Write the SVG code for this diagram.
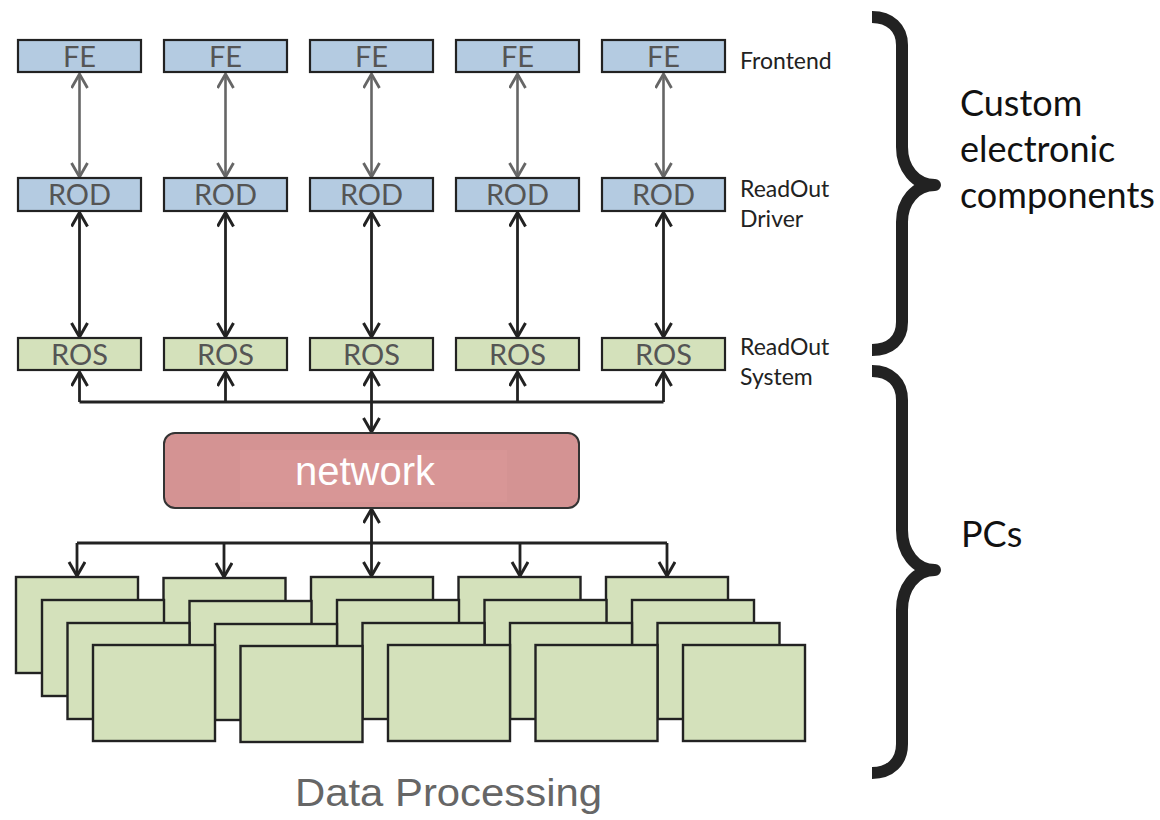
<svg xmlns="http://www.w3.org/2000/svg" width="1160" height="820" viewBox="0 0 1160 820">
<defs>
<style>
.blue{fill:#b4cbe1;stroke:#222;stroke-width:2.2}
.green{fill:#d4e1bb;stroke:#222;stroke-width:2.2}
.pc{fill:#d4e1bb;stroke:#222;stroke-width:2.4}
.bl{font-family:Lato,"Open Sans",sans-serif;font-size:29px;fill:#555;text-anchor:middle}
.side{font-family:Lato,"Open Sans",sans-serif;font-size:23px;fill:#222}
.big{font-family:Lato,"Open Sans",sans-serif;font-size:36px;fill:#111}
.gray{stroke:#666;stroke-width:2.6;fill:none}
.dark{stroke:#222;stroke-width:2.8;fill:none}
.brace{stroke:#222;stroke-width:12;fill:none;stroke-linejoin:round}
</style>
<marker id="ag" markerUnits="userSpaceOnUse" markerWidth="20" markerHeight="20" refX="15" refY="9" orient="auto-start-reverse" viewBox="0 0 20 20"><path d="M1,1 L15,9 L1,17" fill="none" stroke="#666" stroke-width="2.8"/></marker>
<marker id="ad" markerUnits="userSpaceOnUse" markerWidth="20" markerHeight="20" refX="15" refY="9" orient="auto-start-reverse" viewBox="0 0 20 20"><path d="M1,1 L15,9 L1,17" fill="none" stroke="#222" stroke-width="3"/></marker>
</defs>
<rect width="1160" height="820" fill="#fff"/>

<g id="connectors">
<g class="gray" marker-start="url(#ag)" marker-end="url(#ag)">
<line x1="79.5" y1="74" x2="79.5" y2="177"/>
<line x1="225.5" y1="74" x2="225.5" y2="177"/>
<line x1="371.5" y1="74" x2="371.5" y2="177"/>
<line x1="517.5" y1="74" x2="517.5" y2="177"/>
<line x1="663.5" y1="74" x2="663.5" y2="177"/>
</g>
<g class="dark" marker-start="url(#ad)" marker-end="url(#ad)">
<line x1="79.5" y1="212.5" x2="79.5" y2="337"/>
<line x1="225.5" y1="212.5" x2="225.5" y2="337"/>
<line x1="371.5" y1="212.5" x2="371.5" y2="337"/>
<line x1="517.5" y1="212.5" x2="517.5" y2="337"/>
<line x1="663.5" y1="212.5" x2="663.5" y2="337"/>
</g>
<g class="dark">
<path d="M79.5,402 H663.5"/>
<path d="M79.5,402 V372" marker-end="url(#ad)"/>
<path d="M225.5,402 V372" marker-end="url(#ad)"/>
<path d="M517.5,402 V372" marker-end="url(#ad)"/>
<path d="M663.5,402 V372" marker-end="url(#ad)"/>
<path d="M371.5,372 V432" marker-start="url(#ad)" marker-end="url(#ad)"/>
<path d="M77,543 H667"/>
<path d="M77,543 V576" marker-end="url(#ad)"/>
<path d="M224,543 V577" marker-end="url(#ad)"/>
<path d="M520,543 V576" marker-end="url(#ad)"/>
<path d="M667,543 V576" marker-end="url(#ad)"/>
<path d="M371.5,509 V576" marker-start="url(#ad)" marker-end="url(#ad)"/>
</g>
</g>

<g id="fe1"><rect class="blue" x="18" y="40" width="123" height="32"/><text class="bl" x="79.5" y="67">FE</text></g>
<g id="fe2"><rect class="blue" x="164" y="40" width="123" height="32"/><text class="bl" x="225.5" y="67">FE</text></g>
<g id="fe3"><rect class="blue" x="310" y="40" width="123" height="32"/><text class="bl" x="371.5" y="67">FE</text></g>
<g id="fe4"><rect class="blue" x="456" y="40" width="123" height="32"/><text class="bl" x="517.5" y="67">FE</text></g>
<g id="fe5"><rect class="blue" x="602" y="40" width="123" height="32"/><text class="bl" x="663.5" y="67">FE</text></g>

<g id="rod1"><rect class="blue" x="18" y="178" width="123" height="33"/><text class="bl" x="79.5" y="205">ROD</text></g>
<g id="rod2"><rect class="blue" x="164" y="178" width="123" height="33"/><text class="bl" x="225.5" y="205">ROD</text></g>
<g id="rod3"><rect class="blue" x="310" y="178" width="123" height="33"/><text class="bl" x="371.5" y="205">ROD</text></g>
<g id="rod4"><rect class="blue" x="456" y="178" width="123" height="33"/><text class="bl" x="517.5" y="205">ROD</text></g>
<g id="rod5"><rect class="blue" x="602" y="178" width="123" height="33"/><text class="bl" x="663.5" y="205">ROD</text></g>

<g id="ros1"><rect class="green" x="18" y="338" width="123" height="32"/><text class="bl" x="79.5" y="365">ROS</text></g>
<g id="ros2"><rect class="green" x="164" y="338" width="123" height="32"/><text class="bl" x="225.5" y="365">ROS</text></g>
<g id="ros3"><rect class="green" x="310" y="338" width="123" height="32"/><text class="bl" x="371.5" y="365">ROS</text></g>
<g id="ros4"><rect class="green" x="456" y="338" width="123" height="32"/><text class="bl" x="517.5" y="365">ROS</text></g>
<g id="ros5"><rect class="green" x="602" y="338" width="123" height="32"/><text class="bl" x="663.5" y="365">ROS</text></g>

<g id="network">
<rect x="164" y="433" width="415" height="75" rx="11" fill="#d49393" stroke="#333" stroke-width="2"/>
<rect x="240" y="450" width="267" height="52" fill="#d89696"/>
<text x="365" y="485" font-family="'Liberation Sans',Arial,sans-serif" font-size="40" fill="#fff" text-anchor="middle">network</text>
</g>

<g id="pcs">
<g id="pc-l0">
<rect class="pc" x="16" y="577" width="122" height="96"/>
<rect class="pc" x="163.5" y="578" width="122" height="96"/>
<rect class="pc" x="311" y="577" width="122" height="96"/>
<rect class="pc" x="458.5" y="577" width="122" height="96"/>
<rect class="pc" x="606" y="577" width="122" height="96"/>
</g>
<g id="pc-l1">
<rect class="pc" x="42" y="600" width="122" height="96"/>
<rect class="pc" x="189.5" y="601" width="122" height="96"/>
<rect class="pc" x="337" y="600" width="122" height="96"/>
<rect class="pc" x="484.5" y="600" width="122" height="96"/>
<rect class="pc" x="632" y="600" width="122" height="96"/>
</g>
<g id="pc-l2">
<rect class="pc" x="67.5" y="623" width="122" height="96"/>
<rect class="pc" x="215" y="624" width="122" height="96"/>
<rect class="pc" x="362.5" y="623" width="122" height="96"/>
<rect class="pc" x="510" y="623" width="122" height="96"/>
<rect class="pc" x="657.5" y="623" width="122" height="96"/>
</g>
<g id="pc-l3">
<rect class="pc" x="93" y="645" width="122" height="96"/>
<rect class="pc" x="240.5" y="646" width="122" height="96"/>
<rect class="pc" x="388" y="645" width="122" height="96"/>
<rect class="pc" x="535.5" y="645" width="122" height="96"/>
<rect class="pc" x="683" y="645" width="122" height="96"/>
</g>
</g>

<g id="labels">
<text class="side" x="740" y="69">Frontend</text>
<text class="side" x="740" y="197">ReadOut</text>
<text class="side" x="740" y="227">Driver</text>
<text class="side" x="740" y="355">ReadOut</text>
<text class="side" x="740" y="385">System</text>
</g>

<g id="brace-custom">
<path class="brace" d="M872,17 C890,17 902,28 902,45 L902,147 C902,168 915,185 935,185 C915,185 902,202 902,222 L902,322 C902,340 890,350 872,350"/>
<text class="big" x="960" y="116">Custom</text>
<text class="big" x="960" y="162">electronic</text>
<text class="big" x="960" y="208">components</text>
</g>
<g id="brace-pcs">
<path class="brace" d="M872,371 C890,371 902,382 902,400 L902,530 C902,552 915,570 935,570 C915,570 902,588 902,610 L902,744 C902,762 890,773 872,773"/>
<text class="big" x="961" y="547">PCs</text>
</g>

<text x="295" y="806" font-family="'Liberation Sans',Arial,sans-serif" font-size="38" fill="#666" textLength="307" lengthAdjust="spacingAndGlyphs">Data Processing</text>
</svg>
